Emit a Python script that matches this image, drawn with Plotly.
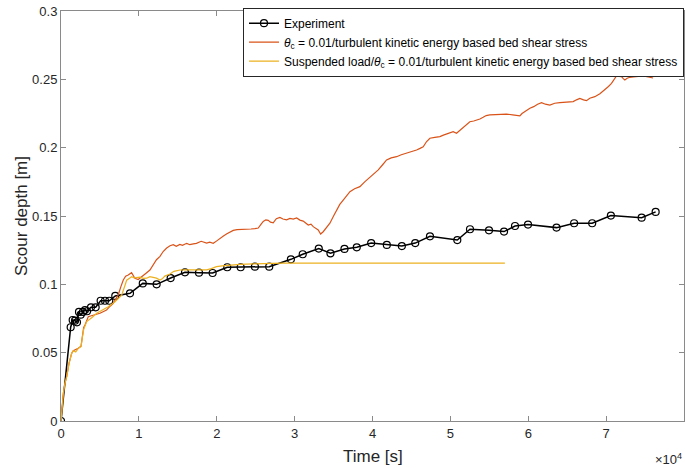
import plotly.graph_objects as go

# Experiment data
exp_t = [0, 1240, 1500, 1800, 2050, 2310, 2530, 2820, 3080, 3340, 3850, 4450, 5090, 5650, 6200,
         6970, 8860, 10500, 12280, 14080, 15920, 17720, 19470, 21350, 23070, 24900, 26740, 29520,
         31040, 33100, 34600, 36400, 37980, 39830, 41840, 43770, 45490, 47380, 50890, 52520, 54960,
         56890, 58300, 59970, 63630, 65890, 68210, 70610, 74560, 76360]
exp_d = [0, 0.0686, 0.0739, 0.0734, 0.0722, 0.0798, 0.0778, 0.0798, 0.0812, 0.0803, 0.0832, 0.0832,
         0.088, 0.088, 0.088, 0.0915, 0.0934, 0.1007, 0.100, 0.1046, 0.1088, 0.1085, 0.1083, 0.1125,
         0.1125, 0.1129, 0.1129, 0.1183, 0.122, 0.1262, 0.1227, 0.1259, 0.1271, 0.1302, 0.1288, 0.128,
         0.1302, 0.1351, 0.1324, 0.1403, 0.1395, 0.1386, 0.1427, 0.1437, 0.1415, 0.1447, 0.1447,
         0.1503, 0.1488, 0.153]

# theta_c = 0.01 / TKE based bed shear stress
tke_t = [0, 300, 510, 730, 1030, 1370, 1580, 1890, 2220, 2570, 2740, 2910, 3080, 3300, 3500, 3900,
         4360, 5000, 5400, 5850, 6300, 6710, 7050, 7350, 7700, 8000, 8300, 8630, 9060, 9300, 9490,
         9910, 10140, 10560, 11000, 11420, 11900, 12260, 12710, 13120, 13570, 14000, 14420, 14800,
         15260, 15600, 16140, 16540, 16990, 17390, 18000, 18270, 18700, 19100, 19550, 20000, 20410,
         20810, 21300, 21800, 22120, 22600, 23100, 23840, 24400, 24900, 25330, 25700, 25970, 26300,
         26610, 26900, 27250, 27650, 28110, 28500, 28970, 29400, 29820, 30260, 30680, 31100, 31750,
         32100, 32390, 33030, 33340, 33670, 34100, 34530, 35000, 35390, 35800, 36240, 36700, 37100,
         37700, 38380, 39000, 39670, 40200, 40740, 41300, 41810, 42400, 43090, 43700, 44380, 45000,
         45660, 46100, 46510, 46950, 47370, 48000, 48650, 49100, 49510, 50000, 50360, 50790, 51200,
         51650, 52100, 52500, 53000, 53400, 53790, 54210, 54600, 55070, 55700, 56400, 57210, 58000,
         58500, 58920, 59200, 59560, 60210, 60700, 61200, 61710, 62200, 62770, 63400, 64060, 64900,
         65770, 66200, 66620, 67100, 67480, 67900, 68550, 69200, 69830, 70300, 70690, 71000, 71330,
         71650, 71980, 72200, 72400, 72700, 73040, 73500, 73900, 74300, 74750, 75400, 76030]
tke_d = [0, 0.0203, 0.0276, 0.0324, 0.0422, 0.0495, 0.0514, 0.052, 0.0532, 0.0547, 0.0625, 0.0685,
         0.0702, 0.0735, 0.0763, 0.0770, 0.0776, 0.0788, 0.0800, 0.0812, 0.0840, 0.0861, 0.0895,
         0.0922, 0.0985, 0.1032, 0.1060, 0.1068, 0.1085, 0.1060, 0.1044, 0.1035, 0.1045, 0.1060,
         0.1085, 0.1105, 0.1150, 0.1180, 0.1205, 0.1240, 0.1266, 0.1282, 0.1290, 0.1278, 0.1292,
         0.1285, 0.1300, 0.1290, 0.1296, 0.1300, 0.1315, 0.1310, 0.1302, 0.1308, 0.1300, 0.1318,
         0.1337, 0.1352, 0.1370, 0.1385, 0.1395, 0.1400, 0.1400, 0.1402, 0.1405, 0.1408, 0.1412,
         0.1440, 0.1460, 0.1472, 0.1468, 0.1455, 0.1450, 0.1480, 0.1490, 0.1478, 0.1472, 0.1482,
         0.1478, 0.1486, 0.1470, 0.1463, 0.1434, 0.1440, 0.1422, 0.1398, 0.1368, 0.1385, 0.1415,
         0.1447, 0.1500, 0.1544, 0.1585, 0.1617, 0.1650, 0.1678, 0.1700, 0.1715, 0.1750, 0.1783,
         0.1810, 0.1837, 0.1875, 0.1910, 0.1925, 0.1934, 0.1948, 0.1959, 0.1970, 0.1983, 0.1995,
         0.2007, 0.2045, 0.2069, 0.2075, 0.2081, 0.2092, 0.2100, 0.2110, 0.2117, 0.2105, 0.2125,
         0.2142, 0.2168, 0.2190, 0.2195, 0.2200, 0.2210, 0.2222, 0.2235, 0.2240, 0.2242, 0.2244,
         0.2246, 0.2240, 0.2236, 0.2232, 0.2250, 0.2264, 0.2288, 0.2300, 0.2318, 0.2329, 0.2318,
         0.2312, 0.2325, 0.2329, 0.2333, 0.2337, 0.2350, 0.2361, 0.2350, 0.2344, 0.2362, 0.2373,
         0.2395, 0.2422, 0.2448, 0.2471, 0.2500, 0.2525, 0.2522, 0.2520, 0.2505, 0.2495, 0.2508,
         0.2515, 0.2518, 0.2520, 0.2524, 0.2525, 0.2518, 0.2510]

# Suspended load / theta_c = 0.01 / TKE based bed shear stress
sus_t = [0, 300, 510, 730, 1030, 1370, 1580, 1890, 2220, 2570, 2740, 2910, 3300, 3720, 4020, 4580,
         5220, 6070, 6930, 7790, 8200, 8430, 8800, 9070, 9400, 9700, 10140, 10560, 11000, 11410,
         11850, 12260, 12710, 13000, 13330, 13990, 14500, 15280, 16000, 16990, 18250, 18700, 19300,
         19960, 20700, 21670, 23000, 24690, 26000, 27250, 28500, 30000, 57000]
sus_d = [0, 0.0203, 0.0276, 0.0324, 0.0422, 0.0495, 0.0514, 0.0505, 0.0532, 0.0544, 0.0610, 0.0670,
         0.0727, 0.0744, 0.0759, 0.0788, 0.0807, 0.0836, 0.0873, 0.0920, 0.0990, 0.1030, 0.1045,
         0.1056, 0.1048, 0.1051, 0.1052, 0.1044, 0.1045, 0.1056, 0.1052, 0.1045, 0.1032, 0.1040,
         0.1060, 0.1075, 0.1095, 0.1105, 0.1106, 0.1105, 0.1108, 0.1106, 0.1115, 0.1129, 0.1135,
         0.1141, 0.1146, 0.1150, 0.1153, 0.1154, 0.1155, 0.1155, 0.1155]

x_tickvals = [0, 10000, 20000, 30000, 40000, 50000, 60000, 70000, 80000]
x_ticktext = ["0", "1", "2", "3", "4", "5", "6", "7", "8"]
y_tickvals = [0, 0.05, 0.1, 0.15, 0.2, 0.25, 0.3]
y_ticktext = ["0", "0.05", "0.1", "0.15", "0.2", "0.25", "0.3"]

FONT = "Liberation Sans, Arial, sans-serif"
AX = "#262626"
LINE = "#8a8a8a"

fig = go.Figure()
fig.add_trace(go.Scatter(
    x=exp_t, y=exp_d, mode="lines+markers", name="Experiment",
    line=dict(color="#000000", width=1.5),
    marker=dict(symbol="circle-open", size=7, color="#000000", line=dict(width=1.2)),
))
fig.add_trace(go.Scatter(
    x=tke_t, y=tke_d, mode="lines",
    name="<i>θ</i><sub>c</sub> = 0.01/turbulent kinetic energy based bed shear stress",
    line=dict(color="#D95319", width=1.2),
))
fig.add_trace(go.Scatter(
    x=sus_t, y=sus_d, mode="lines",
    name="Suspended load/<i>θ</i><sub>c</sub> = 0.01/turbulent kinetic energy based bed shear stress",
    line=dict(color="#EDB120", width=1.2),
))

fig.update_layout(
    width=685, height=468,
    margin=dict(l=61, r=1, t=11, b=47),
    paper_bgcolor="white", plot_bgcolor="white",
    font=dict(family=FONT, size=12, color=AX),
    showlegend=True,
    legend=dict(
        x=1, y=1.008, xanchor="right", yanchor="top",
        bgcolor="white", bordercolor=AX, borderwidth=1,
        font=dict(family=FONT, size=12, color="#000000"),
        tracegroupgap=0, itemwidth=30,
    ),
    xaxis=dict(
        range=[0, 80000], tickvals=x_tickvals, ticktext=x_ticktext,
        ticks="inside", ticklen=5, tickcolor=LINE, showgrid=False, zeroline=False,
        showline=True, linecolor=LINE, linewidth=1, mirror="ticks",
        tickfont=dict(size=13, color=AX),
    ),
    yaxis=dict(
        range=[0, 0.3], tickvals=y_tickvals, ticktext=y_ticktext,
        ticks="inside", ticklen=5, tickcolor=LINE, showgrid=False, zeroline=False,
        showline=True, linecolor=LINE, linewidth=1, mirror="ticks",
        title=dict(text="Scour depth [m]", font=dict(size=17), standoff=0),
        tickfont=dict(size=13, color=AX),
    ),
    annotations=[
        dict(
            text="Time [s]", xref="paper", yref="paper", x=0.5, y=0,
            xanchor="center", yanchor="middle", yshift=-35, showarrow=False,
            font=dict(family=FONT, size=17, color=AX),
        ),
        dict(
            text="×10<sup>4</sup>", xref="paper", yref="paper", x=1, y=0,
            xanchor="right", yanchor="top", yshift=-28, showarrow=False,
            font=dict(family=FONT, size=13, color=AX),
        ),
    ],
)

fig.write_html("out.html")
